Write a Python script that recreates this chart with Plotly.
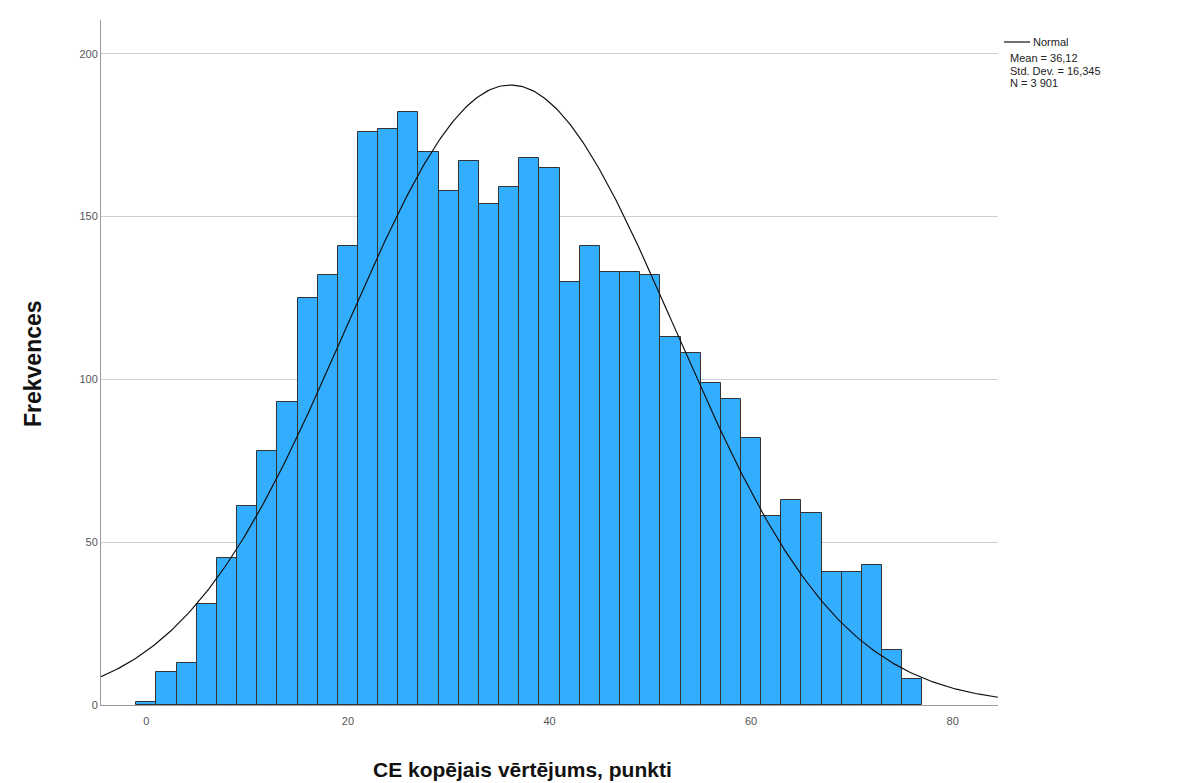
import numpy as np
import plotly.graph_objects as go

# Histogram bins (centers, width 2) and frequencies
bin_centers = [0, 2, 4, 6, 8, 10, 12, 14, 16, 18, 20, 22, 24, 26, 28, 30, 32, 34, 36, 38,
               40, 42, 44, 46, 48, 50, 52, 54, 56, 58, 60, 62, 64, 66, 68, 70, 72, 74, 76]
frequencies = [1, 10, 13, 31, 45, 61, 78, 93, 125, 132, 141, 176, 177, 182, 170, 158, 167, 154, 159, 168,
               165, 130, 141, 133, 133, 132, 113, 108, 99, 94, 82, 58, 63, 59, 41, 41, 43, 17, 8]
bin_width = 2

# Normal fit statistics shown in the legend
mean = 36.12
std_dev = 16.345
n_total = 3901

x_ticks = [0, 20, 40, 60, 80]
y_ticks = [0, 50, 100, 150, 200]
x_range = [-4.5, 84.5]
y_range = [0, 210.4]

x_title = "CE kopējais vērtējums, punkti"
y_title = "Frekvences"
stats_lines = ["Mean = 36,12", "Std. Dev. = 16,345", "N = 3 901"]

# Normal curve scaled to histogram counts
curve_x = np.linspace(x_range[0], x_range[1], 400)
curve_y = n_total * bin_width / (std_dev * np.sqrt(2 * np.pi)) * np.exp(-0.5 * ((curve_x - mean) / std_dev) ** 2)

fig = go.Figure()
fig.add_trace(go.Bar(
    x=bin_centers, y=frequencies, width=bin_width,
    marker=dict(color="#33AEFF", line=dict(color="#333333", width=1)),
    showlegend=False, hoverinfo="x+y",
))
fig.add_trace(go.Scatter(
    x=curve_x, y=curve_y, mode="lines",
    line=dict(color="#111111", width=1.2),
    showlegend=False, hoverinfo="skip",
))

L, R, T, B = 101, 204, 20, 78
W, H = 1202, 783
pw = W - L - R
ph = H - T - B

def px(xp):
    return (xp - L) / pw

def py(yp):
    return (H - B - yp) / ph

title_font = dict(size=21, color="#111", family="Liberation Sans, Arial, sans-serif", weight="bold")

fig.update_layout(
    width=W, height=H,
    margin=dict(l=L, r=R, t=T, b=B, pad=0, autoexpand=False),
    paper_bgcolor="white", plot_bgcolor="white",
    bargap=0,
    font=dict(family="Liberation Sans, Arial, sans-serif", color="#333"),
    xaxis=dict(
        range=x_range, tickvals=x_ticks, ticktext=[str(v) for v in x_ticks],
        showgrid=False, zeroline=False, showline=True, linecolor="#9a9a9a", linewidth=1,
        ticks="", tickfont=dict(size=11, color="#555"), automargin=False,
        ticklabelstandoff=6,
    ),
    yaxis=dict(
        range=y_range, tickvals=y_ticks, ticktext=[str(v) for v in y_ticks],
        showgrid=True, gridcolor="#cfcfcf", gridwidth=1,
        zeroline=False, showline=True, linecolor="#9a9a9a", linewidth=1,
        ticks="", tickfont=dict(size=11, color="#555"), automargin=False,
    ),
)

# Axis titles
fig.add_annotation(xref="paper", yref="paper", x=px(522), y=py(769),
                   text=x_title, showarrow=False, xanchor="center", yanchor="middle",
                   font=title_font, borderpad=0)
fig.add_annotation(xref="paper", yref="paper", x=px(33), y=py(364),
                   text=y_title, showarrow=False, xanchor="center", yanchor="middle",
                   textangle=-90, font=dict(title_font, size=23), borderpad=0)

# Legend: line sample + "Normal"
fig.add_shape(type="line", xref="paper", yref="paper",
              x0=px(1004), x1=px(1030), y0=py(42), y1=py(42),
              line=dict(color="#111", width=1.2))
fig.add_annotation(xref="paper", yref="paper", x=px(1032), y=py(42),
                   text="Normal", showarrow=False, xanchor="left", yanchor="middle",
                   font=dict(size=11, color="#222"), borderpad=0)
for i, line in enumerate(stats_lines):
    fig.add_annotation(xref="paper", yref="paper", x=px(1009), y=py(58 + 12.5 * i),
                       text=line, showarrow=False, xanchor="left", yanchor="middle",
                       font=dict(size=11, color="#222"), borderpad=0)

fig.write_html("out.html")
